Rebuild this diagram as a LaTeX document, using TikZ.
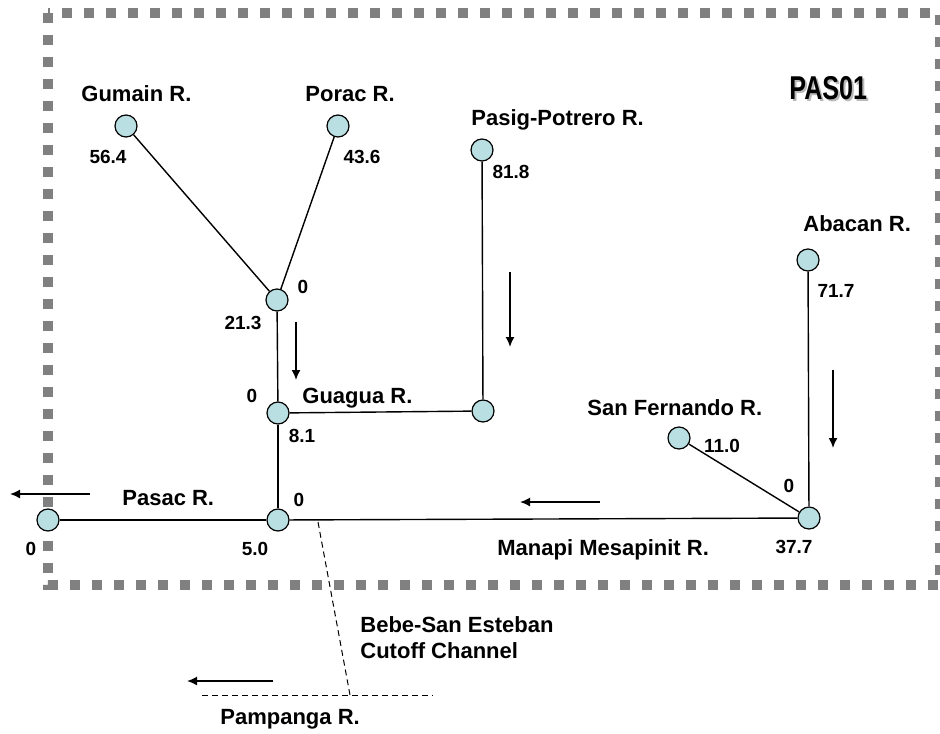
\documentclass[tikz,border=0pt]{standalone}
\usepackage{fontspec}
\setmainfont{Liberation Sans}
\usetikzlibrary{arrows.meta}
\definecolor{myblue}{HTML}{B9DFE3}
\definecolor{myframe}{HTML}{808080}
\tikzset{
	junction/.style={
			circle,
			draw=black,
			fill=myblue,
			line width=0.6pt,
			minimum size=11pt,
			inner sep=0pt
		},
	rivername/.style={
			font=\bfseries\fontsize{11}{13}\selectfont,
			inner sep=0pt,
			anchor=base west
		},
	flowvalue/.style={
			font=\bfseries\fontsize{9.5}{11}\selectfont,
			inner sep=0pt,
			anchor=base
		},
	areaname/.style={
			font=\bfseries\fontsize{16.5}{18}\selectfont,
			inner sep=0pt,
			anchor=base west
		},
	reach/.style={
			line width=0.7pt
		},
	flow/.style={
			line width=0.8pt,
			-{Latex[length=5pt,width=4.5pt]}
		},
	cutoff/.style={
			line width=0.5pt,
			dash pattern=on 3pt off 2pt
		},
	studyarea/.style={
			myframe,
			line width=5pt,
			dash pattern=on 5pt off 6pt
		}
}

\begin{document}
\begin{tikzpicture}[x=0.5pt, y=-0.5pt]
\useasboundingbox (0,0) rectangle (940,733);
\clip (0,0) rectangle (940,733);
\draw[studyarea] (48,13) rectangle (940,585);

\node[areaname, text=gray!55] (pas01shadow) at (791,101) {\scalebox{0.76}[1]{PAS01}};
\node[areaname] (pas01) at (789,99) {\scalebox{0.76}[1]{PAS01}};

\node[junction] (gumain) at (126,126) {};
\node[junction] (porac) at (338,126) {};
\node[junction] (pasig) at (482,150) {};
\node[junction] (upper) at (277,300) {};
\node[junction] (guagua) at (278,413) {};
\node[junction] (pasigend) at (483,411) {};
\node[junction] (abacan) at (808,260) {};
\node[junction] (sanfernando) at (679,438) {};
\node[junction] (manapi) at (809,518) {};
\node[junction] (pasac) at (278,520) {};
\node[junction] (pasacend) at (48,520) {};

\draw[reach] (gumain) -- (upper);
\draw[reach] (porac) -- (upper);
\draw[reach] (upper) -- (guagua);
\draw[reach] (pasig) -- (pasigend);
\draw[reach] (guagua) -- (pasigend);
\draw[reach] (guagua) -- (pasac);
\draw[reach] (pasacend) -- (pasac);
\draw[reach] (pasac) -- (manapi);
\draw[reach] (abacan) -- (manapi);
\draw[reach] (sanfernando) -- (manapi);

% river names
\node[rivername] (gumainlbl) at (81,101) {Gumain R.};
\node[rivername] (poraclbl) at (305,101) {Porac R.};
\node[rivername] (pasiglbl) at (471,126) {Pasig-Potrero R.};
\node[rivername] (abacanlbl) at (803,231) {Abacan R.};
\node[rivername] (guagualbl) at (302,403) {Guagua R.};
\node[rivername] (sanfernandolbl) at (587,415) {San Fernando R.};
\node[rivername] (pasaclbl) at (122,505) {Pasac R.};
\node[rivername] (manapilbl) at (497,555) {Manapi Mesapinit R.};
\node[rivername] (bebelbl) at (360,632) {Bebe-San Esteban};
\node[rivername] (cutofflbl) at (360,658) {Cutoff Channel};
\node[rivername] (pampangalbl) at (220,724) {Pampanga R.};

% values
\node[flowvalue] (gumainval) at (108,163) {56.4};
\node[flowvalue] (poracval) at (362,163) {43.6};
\node[flowvalue] (pasigval) at (511,178) {81.8};
\node[flowvalue] (abacanval) at (836,297) {71.7};
\node[flowvalue] (upperin) at (303,293) {0};
\node[flowvalue] (upperout) at (243,329) {21.3};
\node[flowvalue] (guaguain) at (252,402) {0};
\node[flowvalue] (guaguaout) at (302,442) {8.1};
\node[flowvalue] (sanfernandoval) at (722,452) {11.0};
\node[flowvalue] (manapiin) at (789,492) {0};
\node[flowvalue] (pasacin) at (299,506) {0};
\node[flowvalue] (pasacout) at (255,555) {5.0};
\node[flowvalue] (pasacendval) at (31,555) {0};
\node[flowvalue] (manapival) at (794,553) {37.7};

% flow arrows
\coordinate (pasacflowa) at (90,494);
\coordinate (pasacflowb) at (10,494);
\coordinate (upperflowa) at (296,322);
\coordinate (upperflowb) at (296,380);
\coordinate (pasigflowa) at (510,272);
\coordinate (pasigflowb) at (510,347);
\coordinate (abacanflowa) at (833,370);
\coordinate (abacanflowb) at (833,448);
\coordinate (manapiflowa) at (600,502);
\coordinate (manapiflowb) at (520,502);
\coordinate (pampangaflowa) at (273,681);
\coordinate (pampangaflowb) at (187,681);
\draw[flow] (pasacflowa) -- (pasacflowb);
\draw[flow] (upperflowa) -- (upperflowb);
\draw[flow] (pasigflowa) -- (pasigflowb);
\draw[flow] (abacanflowa) -- (abacanflowb);
\draw[flow] (manapiflowa) -- (manapiflowb);
\draw[flow] (pampangaflowa) -- (pampangaflowb);

% cutoff channel
\coordinate (cutofftop) at (318,522);
\coordinate (cutoffbot) at (350,695);
\coordinate (pampangaw) at (202,695);
\coordinate (pampangae) at (433,695);
\draw[cutoff] (cutofftop) -- (cutoffbot);
\draw[cutoff] (pampangaw) -- (pampangae);
\end{tikzpicture}
\end{document}
